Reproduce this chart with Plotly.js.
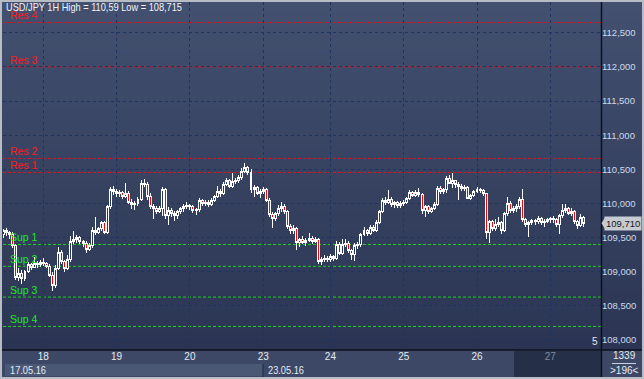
<!DOCTYPE html>
<html><head><meta charset="utf-8">
<script src="https://cdn.plot.ly/plotly-3.0.1.min.js"></script>
<style>html,body{margin:0;padding:0;background:#3b4764;overflow:hidden}#chart{width:644px;height:379px}
.boxlayer path{shape-rendering:crispEdges}</style>
</head><body><div id="chart"></div>
<script>
// ---- DATA ----
const chartTitle = 'USD/JPY 1H High = 110,59 Low = 108,715';
const dayLabels = ['18','19','20','23','24','25','26','27'];
const dayStartBar = [13,37,61,85,107,131,155,179];
const dateLabels = ['17.05.16','23.05.16'];
const barsTotal = '1339';
const barsVisible = '>196<';

const levelNames  = ['Res 4','Res 3','Res 2','Res 1','Sup 1','Sup 2','Sup 3','Sup 4'];
const levelValues = [112.65, 112.00, 110.66, 110.455, 109.40, 109.08, 108.63, 108.20];

const open = [
109.55,109.60,109.57,109.55,109.38,108.92,108.98,108.90,109.00,109.10,
109.07,109.12,109.10,109.14,109.12,109.08,108.95,108.80,109.05,109.28,
109.15,109.05,109.18,109.45,109.48,109.50,109.44,109.42,109.33,109.38,
109.60,109.58,109.63,109.72,109.58,109.95,110.21,110.18,110.14,110.16,
110.10,110.15,110.02,109.98,110.00,110.06,110.30,110.28,110.10,109.95,
109.92,109.89,109.93,110.20,109.82,109.90,109.85,109.82,109.88,109.92,
109.96,109.97,109.95,109.90,109.91,110.04,110.00,110.02,109.99,110.05,
110.10,110.18,110.14,110.28,110.33,110.25,110.32,110.34,110.38,110.47,
110.52,110.45,110.20,110.23,110.15,110.18,110.20,110.05,109.84,109.78,
109.85,109.92,109.96,109.88,109.66,109.60,109.63,109.43,109.47,109.43,
109.46,109.49,109.45,109.47,109.15,109.18,109.20,109.18,109.22,109.20,
109.40,109.27,109.40,109.42,109.31,109.26,109.38,109.40,109.55,109.60,
109.56,109.65,109.61,109.72,109.88,110.04,110.02,110.06,109.98,110.01,
109.97,110.00,110.02,110.07,110.16,110.12,110.16,110.13,109.90,109.95,
109.88,109.92,109.98,110.22,110.18,110.20,110.36,110.30,110.33,110.28,
110.25,110.22,110.24,110.08,110.12,110.18,110.20,110.19,110.14,109.57,
109.73,109.63,109.70,109.72,109.60,109.85,110.00,109.90,109.93,109.96,
110.06,109.76,109.70,109.72,109.75,109.73,109.78,109.72,109.74,109.76,
109.78,109.76,109.70,109.82,109.90,109.92,109.86,109.88,109.73,109.68,109.80];

const high = [
109.63,109.64,109.60,109.58,109.40,109.05,109.02,109.03,109.15,109.13,
109.22,109.16,109.17,109.20,109.15,109.12,109.00,109.10,109.36,109.32,
109.18,109.25,109.52,109.60,109.54,109.53,109.47,109.45,109.42,109.65,
109.80,109.66,109.74,109.74,109.98,110.24,110.25,110.21,110.20,110.19,
110.30,110.18,110.06,110.04,110.10,110.34,110.36,110.31,110.15,109.99,
109.96,109.96,110.24,110.23,109.95,109.93,109.89,109.91,109.95,109.99,
110.02,110.00,109.98,109.94,110.08,110.07,110.05,110.05,110.08,110.13,
110.25,110.21,110.31,110.38,110.36,110.44,110.37,110.42,110.52,110.59,
110.55,110.50,110.27,110.26,110.21,110.24,110.23,110.08,109.88,109.88,
109.98,110.02,109.99,109.91,109.70,109.68,109.66,109.50,109.52,109.49,
109.57,109.52,109.51,109.50,109.22,109.24,109.23,109.26,109.25,109.45,
109.43,109.48,109.48,109.45,109.34,109.42,109.43,109.57,109.66,109.63,
109.68,109.68,109.76,109.90,110.08,110.10,110.20,110.09,110.04,110.04,
110.03,110.05,110.09,110.20,110.19,110.20,110.22,110.16,109.98,109.98,
109.95,110.02,110.25,110.25,110.23,110.40,110.42,110.44,110.35,110.31,
110.28,110.27,110.26,110.14,110.20,110.24,110.22,110.21,110.16,109.76,
109.76,109.78,109.80,109.75,109.88,110.10,110.03,109.96,109.99,110.10,
110.21,109.79,109.75,109.78,109.78,109.81,109.80,109.77,109.79,109.80,
109.81,109.79,109.84,110.00,110.00,109.95,109.93,109.90,109.76,109.84,109.82];

const low = [
109.50,109.52,109.48,109.35,108.88,108.86,108.82,108.87,108.98,109.03,
109.05,109.06,109.07,109.08,109.05,108.92,108.715,108.77,109.02,109.12,
109.00,109.02,109.15,109.40,109.42,109.40,109.36,109.28,109.30,109.35,
109.54,109.55,109.60,109.55,109.56,109.92,110.12,110.10,110.10,110.06,
110.08,110.00,109.92,109.90,109.97,110.04,110.24,110.05,109.92,109.78,
109.85,109.86,109.82,109.78,109.68,109.80,109.75,109.78,109.85,109.88,
109.92,109.91,109.86,109.83,109.88,109.96,109.96,109.95,109.96,110.02,
110.08,110.10,110.12,110.25,110.22,110.22,110.28,110.30,110.35,110.44,
110.42,110.16,110.10,110.12,110.08,110.14,110.02,109.80,109.64,109.74,
109.82,109.88,109.85,109.62,109.56,109.56,109.32,109.36,109.40,109.38,
109.43,109.41,109.42,109.12,109.10,109.14,109.15,109.15,109.16,109.18,
109.24,109.25,109.36,109.28,109.18,109.16,109.34,109.37,109.52,109.53,
109.54,109.58,109.59,109.70,109.86,109.98,110.00,109.95,109.94,109.94,
109.94,109.97,110.00,110.05,110.09,110.10,110.10,109.85,109.80,109.85,
109.86,109.90,109.96,110.14,110.14,110.15,110.28,110.22,110.22,110.05,
110.18,110.19,110.06,110.05,110.10,110.16,110.16,110.11,109.48,109.42,
109.60,109.60,109.66,109.55,109.58,109.82,109.86,109.86,109.88,109.92,
109.73,109.66,109.51,109.68,109.69,109.70,109.69,109.65,109.71,109.72,
109.72,109.66,109.55,109.79,109.86,109.83,109.82,109.70,109.62,109.66,109.66];

const close = [
109.60,109.57,109.55,109.38,108.92,108.98,108.90,109.00,109.10,109.07,
109.12,109.10,109.14,109.12,109.08,108.95,108.80,109.05,109.28,109.15,
109.05,109.18,109.45,109.48,109.50,109.44,109.42,109.33,109.38,109.60,
109.58,109.63,109.72,109.58,109.95,110.21,110.18,110.14,110.16,110.10,
110.15,110.02,109.98,110.00,110.06,110.30,110.28,110.10,109.95,109.92,
109.89,109.93,110.20,109.82,109.90,109.85,109.82,109.88,109.92,109.96,
109.97,109.95,109.90,109.91,110.04,110.00,110.02,109.99,110.05,110.10,
110.18,110.14,110.28,110.33,110.25,110.32,110.34,110.38,110.47,110.52,
110.45,110.20,110.23,110.15,110.18,110.20,110.05,109.84,109.78,109.85,
109.92,109.96,109.88,109.66,109.60,109.63,109.43,109.47,109.43,109.46,
109.49,109.45,109.47,109.15,109.18,109.20,109.18,109.22,109.20,109.40,
109.27,109.40,109.42,109.31,109.26,109.38,109.40,109.55,109.60,109.56,
109.65,109.61,109.72,109.88,110.04,110.02,110.06,109.98,110.01,109.97,
110.00,110.02,110.07,110.16,110.12,110.16,110.13,109.90,109.95,109.88,
109.92,109.98,110.22,110.18,110.20,110.36,110.30,110.33,110.28,110.25,
110.22,110.24,110.08,110.12,110.18,110.20,110.19,110.14,109.57,109.73,
109.63,109.70,109.72,109.60,109.85,110.00,109.90,109.93,109.96,110.06,
109.76,109.70,109.72,109.75,109.73,109.78,109.72,109.74,109.76,109.78,
109.76,109.70,109.82,109.90,109.92,109.86,109.88,109.73,109.68,109.80,109.71];

// ---- LAYOUT HELPERS (pixel -> paper) ----
const PL = 3, PR = 601, PT = 2, PB = 349;
const px = x => (x - PL) / (PR - PL);
const py = y => (PB - y) / (PB - PT);
const SANS = '"Liberation Sans",Arial,sans-serif';
const RED = '#e0141c', GREEN = '#16d616';
const RED_TXT = '#ff1a1a', GREEN_TXT = '#1ee81e';
const TXT = '#e6ebf2';

const idx = close.map((_, i) => i);

const shapes = [];
// background gradient of plot + right axis
const gTop = [67, 80, 111], gBot = [43, 53, 83];
const NSTRIP = 35;
for (let k = 0; k < NSTRIP; k++) {
  const t = (k + 0.5) / NSTRIP;
  const c = gTop.map((v, j) => Math.round(v + (gBot[j] - v) * t));
  shapes.push({type:'rect', xref:'paper', yref:'paper', layer:'below',
    x0:px(0), x1:px(644), y0:py(k * 350 / NSTRIP), y1:py((k + 1) * 350 / NSTRIP + 0.6),
    fillcolor:`rgb(${c[0]},${c[1]},${c[2]})`, line:{width:0}});
}
// bottom band
shapes.push({type:'rect', xref:'paper', yref:'paper', layer:'below', x0:px(0), x1:px(644), y0:py(350), y1:py(379), fillcolor:'#3c4866', line:{width:0}});
shapes.push({type:'rect', xref:'paper', yref:'paper', layer:'below', x0:px(5), x1:px(263), y0:py(364), y1:py(376), fillcolor:'#4b5875', line:{width:0}});
shapes.push({type:'rect', xref:'paper', yref:'paper', layer:'below', x0:px(514), x1:px(601), y0:py(351), y1:py(377), fillcolor:'#262f48', line:{width:0}});
// separators
shapes.push({type:'line', xref:'paper', yref:'paper', x0:px(0), x1:px(644), y0:py(350), y1:py(350), line:{color:'#0c111d', width:1.5}});
shapes.push({type:'line', xref:'paper', yref:'paper', x0:px(601.5), x1:px(601.5), y0:py(0), y1:py(378), line:{color:'#0c111d', width:1.5}});
shapes.push({type:'line', xref:'paper', yref:'paper', x0:px(263), x1:px(263), y0:py(364), y1:py(377), line:{color:'#1d2640', width:1}});
shapes.push({type:'line', xref:'paper', yref:'paper', x0:px(612), x1:px(636), y0:py(363.5), y1:py(363.5), line:{color:'#c8d2e2', width:1}});
// outer frame
shapes.push({type:'rect', xref:'paper', yref:'paper', x0:px(0), x1:px(644), y0:py(0), y1:py(379), line:{color:'#b8bcc4', width:4}, fillcolor:'rgba(0,0,0,0)'});

// level lines + labels
const annotations = [];
levelNames.forEach((name, i) => {
  const isRes = name.startsWith('Res');
  shapes.push({type:'line', xref:'paper', yref:'y', x0:0, x1:1, y0:levelValues[i], y1:levelValues[i],
    line:{color:isRes ? RED : GREEN, width:1, dash:'3px,2px'}, layer:'between'});
  annotations.push({xref:'paper', yref:'y', x:px(8), y:levelValues[i], xanchor:'left', yanchor:'bottom',
    text:name, showarrow:false, font:{family:SANS, size:10.5, color:isRes ? RED_TXT : GREEN_TXT}, yshift:-1});
});

// price tag (last close)
const last = close[close.length - 1];
const lastTxt = last.toFixed(3).replace('.', ',');
shapes.push({type:'path', xref:'paper', yref:'y',
  path:`M ${px(601.5)} ${last} L ${px(605)} ${last + 0.085} L ${px(605)} ${last - 0.085} Z`,
  fillcolor:'#c6cad1', line:{width:0}});
annotations.push({xref:'paper', yref:'y', x:px(604), y:last, xanchor:'left', yanchor:'middle',
  text:lastTxt, showarrow:false, bgcolor:'#c6cad1', borderpad:1,
  font:{family:SANS, size:9.5, color:'#161616'}});

// title + other texts
annotations.push({xref:'paper', yref:'paper', x:px(4), y:py(7), xanchor:'left', yanchor:'middle',
  text:chartTitle, showarrow:false, font:{family:SANS, size:11, color:'#f2f4f8'}});
annotations.push({xref:'paper', yref:'paper', x:px(8), y:py(370), xanchor:'left', yanchor:'middle',
  text:dateLabels[0], showarrow:false, font:{family:SANS, size:10, color:TXT}});
annotations.push({xref:'paper', yref:'paper', x:px(266), y:py(370), xanchor:'left', yanchor:'middle',
  text:dateLabels[1], showarrow:false, font:{family:SANS, size:10, color:TXT}});
annotations.push({xref:'paper', yref:'paper', x:px(624), y:py(356), xanchor:'center', yanchor:'middle',
  text:barsTotal, showarrow:false, font:{family:SANS, size:10, color:TXT}});
annotations.push({xref:'paper', yref:'paper', x:px(624), y:py(370), xanchor:'center', yanchor:'middle',
  text:barsVisible, showarrow:false, font:{family:SANS, size:10, color:TXT}});
annotations.push({xref:'paper', yref:'paper', x:px(600), y:py(341), xanchor:'right', yanchor:'middle',
  text:'5', showarrow:false, font:{family:SANS, size:10, color:TXT}});

const tickText = dayLabels.map((d, i) => i === dayLabels.length - 1 ? `<span style="color:#7f8aa0">${d}</span>` : d);

const trace = {
  type:'candlestick', x:idx, open:open, high:high, low:low, close:close,
  increasing:{line:{color:'#ffffff', width:1}, fillcolor:'#2e3957'},
  decreasing:{line:{color:'#ffffff', width:1}, fillcolor:'#ff0000'},
  whiskerwidth:0, hoverinfo:'skip', showlegend:false
};

const layout = {
  width:644, height:379,
  margin:{l:PL, r:644 - PR, t:PT, b:379 - PB, pad:0},
  paper_bgcolor:'#3b4764', plot_bgcolor:'#36425f',
  separators:',.', showlegend:false, dragmode:false,
  boxgap:0.35, boxgroupgap:0,
  xaxis:{range:[-0.2, 195.6], tickmode:'array', tickvals:dayStartBar, ticktext:tickText,
    showgrid:true, gridcolor:'#1d3463', griddash:'3px,3px', gridwidth:1, zeroline:false, showline:false,
    ticks:'', tickfont:{family:SANS, size:10, color:TXT}, rangeslider:{visible:false}, fixedrange:true},
  yaxis:{side:'right', range:[107.87, 112.95], tick0:108, dtick:0.5, tickformat:'.3f',
    showgrid:true, gridcolor:'#1d3463', griddash:'3px,3px', gridwidth:1, zeroline:false, showline:false,
    ticks:'', tickfont:{family:SANS, size:9.5, color:'#cdd8ea'}, fixedrange:true},
  shapes:shapes, annotations:annotations
};

// condensed widths seen in the reference for a few texts (left edge kept)
const squeeze = {};
squeeze[chartTitle] = 176;
squeeze[dateLabels[0]] = 36;
squeeze[dateLabels[1]] = 36;

Plotly.newPlot('chart', [trace], layout, {staticPlot:true, displayModeBar:false}).then(() => {
  document.querySelectorAll('.annotation-text').forEach(t => {
    const w = squeeze[t.textContent];
    if (w) {
      const bb = t.getBBox();
      t.setAttribute('text-anchor', 'start');
      t.setAttribute('x', bb.x);
      t.setAttribute('textLength', w);
      t.setAttribute('lengthAdjust', 'spacingAndGlyphs');
    }
  });
});
</script></body></html>
